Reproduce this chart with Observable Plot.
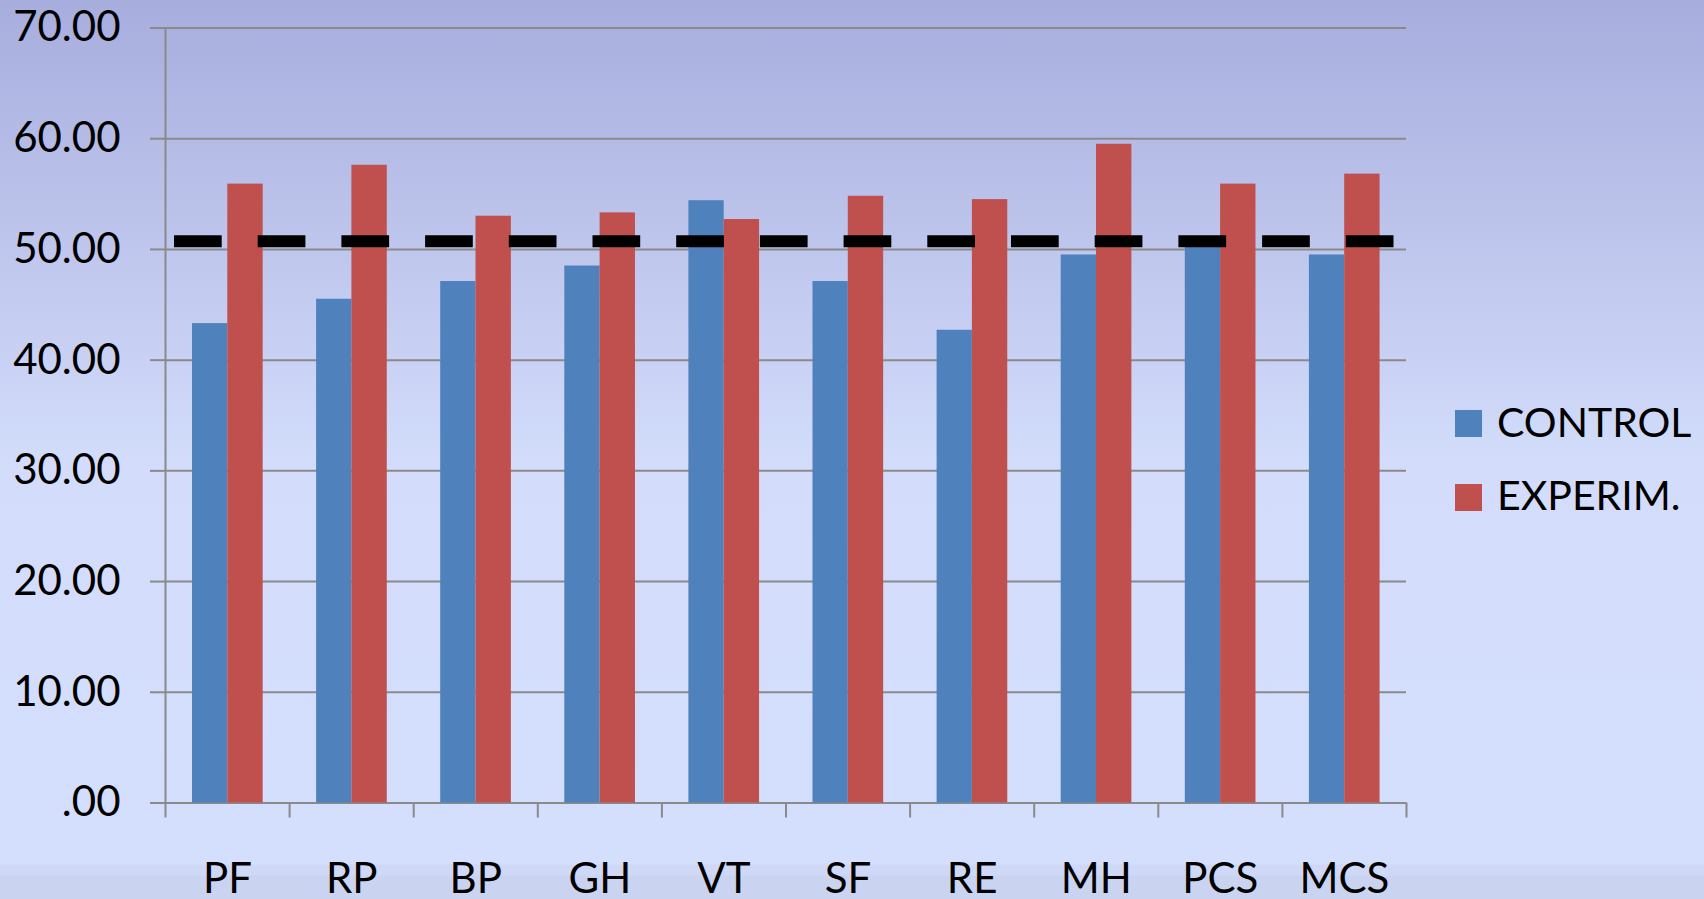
<!DOCTYPE html>
<html>
<head>
<meta charset="utf-8">
<script src="https://cdn.jsdelivr.net/npm/d3@7"></script>
<script src="https://cdn.jsdelivr.net/npm/@observablehq/plot@0.6"></script>
<style>
  html, body { margin: 0; padding: 0; }
  body {
    width: 1704px; height: 899px; overflow: hidden; position: relative;
    background: linear-gradient(to bottom, #a7addd 0px, #d3ddfb 470px, #d4defd 864px, #cfd9f7 865px, #cfd9f7 875px, #cad4f1 876px, #cad4f1 899px);
    font-family: Lato, "Open Sans", sans-serif;
  }
  #chart { position: absolute; left: 0; top: 0; }
  .leg { position: absolute; left: 1455px; font-size: 41px; line-height: 41px; color: #000; white-space: nowrap; }
  .leg .sw { position: absolute; left: 0; width: 27px; height: 27px; }
  .leg .tx { position: absolute; left: 42px; top: 0; }
</style>
</head>
<body>
<div id="chart"></div>
<div class="leg" id="leg1" style="top:400.5px"><div class="sw" style="top:9.5px;background:#4f81bd"></div><div class="tx">CONTROL</div></div>
<div class="leg" id="leg2" style="top:474.2px"><div class="sw" style="top:9.8px;background:#c0504d"></div><div class="tx">EXPERIM.</div></div>
<script>
const categories = ["PF", "RP", "BP", "GH", "VT", "SF", "RE", "MH", "PCS", "MCS"];
const control = [43.3, 45.5, 47.1, 48.5, 54.4, 47.1, 42.7, 49.5, 51.0, 49.5];
const experim = [55.9, 57.6, 53.0, 53.3, 52.7, 54.8, 54.5, 59.5, 55.9, 56.8];
const referenceValue = 50.75;
const yTicks = [0, 10, 20, 30, 40, 50, 60, 70];
const seriesNames = ["CONTROL", "EXPERIM."];

const rows = categories.map((c, i) => ({i, cat: c, control: control[i], experim: experim[i]}));
const gray = "#8a8a8a";

const chart = Plot.plot({
  width: 1704,
  height: 899,
  marginLeft: 165,
  marginRight: 298,
  marginTop: 27.5,
  marginBottom: 96.5,
  x: {type: "linear", domain: [0, categories.length]},
  y: {domain: [0, 70]},
  style: {background: "transparent", fontFamily: "Lato, 'Open Sans', sans-serif", fontSize: "42px", color: "black", overflow: "visible"},
  marks: [
    Plot.gridY(yTicks, {stroke: gray, strokeOpacity: 1, strokeWidth: 2}),
    Plot.axisY(yTicks, {tickSize: 15, tickPadding: 30, stroke: gray, strokeWidth: 2, fill: "black", label: null,
      tickFormat: d => d === 0 ? ".00" : d.toFixed(2)}),
    Plot.ruleX([0], {y1: 0, y2: 70, stroke: gray, strokeWidth: 2}),
    Plot.axisX(d3.range(categories.length + 1), {tickSize: 15, stroke: gray, strokeWidth: 2, tickFormat: () => "", label: null}),
    Plot.axisX(d3.range(categories.length).map(i => i + 0.5), {tickSize: 0, tickPadding: 60, fill: "black", label: null,
      tickFormat: d => categories[Math.floor(d)]}),
    Plot.rectY(rows, {x1: d => d.i + 0.2176, x2: d => d.i + 0.502, y1: 0, y2: "control", fill: "#4f81bd"}),
    Plot.rectY(rows, {x1: d => d.i + 0.502, x2: d => d.i + 0.787, y1: 0, y2: "experim", fill: "#c0504d"}),
    Plot.ruleY([referenceValue], {insetLeft: 9, insetRight: 6, stroke: "black", strokeWidth: 12, strokeDasharray: "47.7,36"})
  ]
});
document.getElementById("chart").appendChild(chart);
</script>
</body>
</html>
